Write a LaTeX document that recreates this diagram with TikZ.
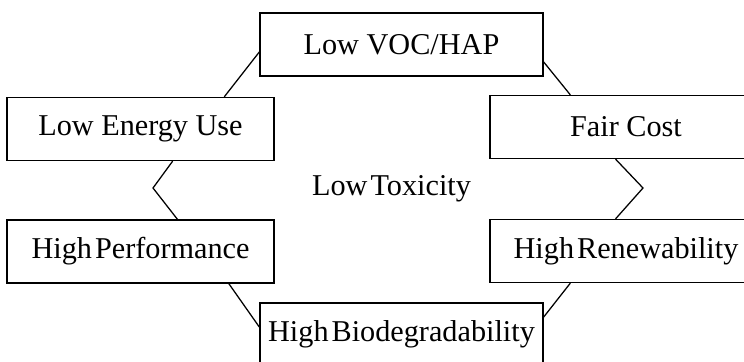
\documentclass[tikz,border=0pt]{standalone}
\usepackage{fontspec}
\setmainfont{Liberation Serif}
\begin{document}
\begin{tikzpicture}[x=0.025cm,y=-0.025cm,line width=0.9pt,
    every node/.style={font=\fontsize{21.5}{26}\selectfont},
    tight/.style={font={\fontsize{21.5}{26}\selectfont\spaceskip 0.1em\relax}},
    goal/.style={draw,rectangle,minimum height=1.575cm,inner sep=0pt},
    sidegoal/.style={goal,minimum width=6.675cm},
    midgoal/.style={goal,minimum width=7.075cm},
    rightgoal/.style={goal,minimum width=6.8cm}]
    \useasboundingbox (0,0) rectangle (744,362);
    \clip (0,0) rectangle (744,362);

    \node[midgoal] (voc) at (401.5,44.5) {Low VOC/HAP};
    \node[sidegoal] (energy) at (140.5,129) {Low Energy Use};
    \node[rightgoal] (cost) at (626,127) {Fair Cost};
    \node[tight] (tox) at (391.5,189) {Low Toxicity};
    \node[sidegoal,tight] (perf) at (140.5,251.5) {High Performance};
    \node[rightgoal,tight] (renew) at (626,251) {High Renewability};
    \node[midgoal,tight] (bio) at (401.5,334.5) {High Biodegradability};

    \coordinate (lbend) at (153,188);
    \coordinate (rbend) at (643,188);

    \draw (voc.183)--(energy.21);
    \draw (voc.353)--(cost.150);
    \draw (energy.315)--(lbend)--(perf.41);
    \draw (cost.252)--(rbend)--(renew.108);
    \draw (perf.340)--(bio.177);
    \draw (bio.7)--(renew.210);
\end{tikzpicture}
\end{document}
